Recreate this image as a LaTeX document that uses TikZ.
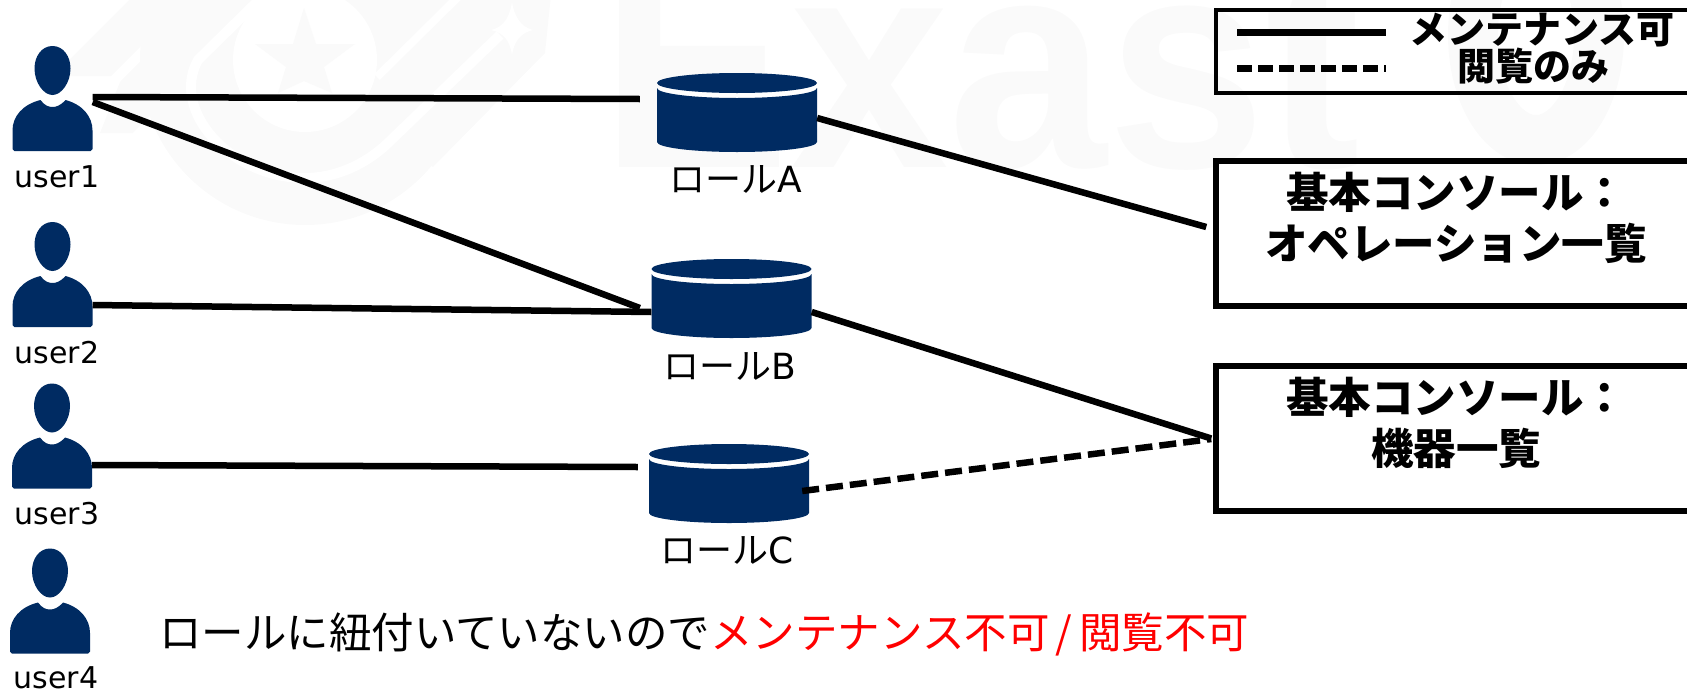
\documentclass[tikz,border=0pt]{standalone}
\usepackage{fontspec}
\usetikzlibrary{calc}
\setmainfont{DejaVu Sans}
\newfontfamily\cjk{Noto Sans CJK JP}
\definecolor{navy}{HTML}{002B62}
\definecolor{wm}{HTML}{FAFAFA}
\tikzset{
  conn/.style={line width=6.5pt,black},
  dashconn/.style={line width=6.5pt,black,dash pattern=on 17pt off 7pt},
  userbox/.style={minimum width=80pt,minimum height=105pt,inner sep=0pt},
  rolebox/.style={minimum width=160pt,minimum height=79pt,inner sep=0pt},
  ulabel/.style={anchor=base,inner sep=0pt,font=\fontsize{30}{36}\selectfont},
  rlabel/.style={anchor=base,inner sep=0pt,font=\fontsize{36}{44}\selectfont},
  consolebox/.style={draw=black,line width=5.5pt,minimum width=480pt,minimum height=145pt,inner sep=0pt},
  consoletext/.style={align=center,inner sep=0pt,font=\fontsize{42.5}{51}\selectfont\cjk\bfseries},
  legendbox/.style={draw=black,line width=3.5pt,minimum width=480pt,minimum height=83pt,inner sep=0pt},
  legendtext/.style={inner sep=0pt,font=\fontsize{38}{44}\selectfont\cjk\bfseries},
  usericon/.pic={
    \fill[navy] (0,-52.5) .. controls (11,-52.5) and (18,-42) .. (18,-30)
      .. controls (18,-16) and (9,-3.5) .. (0,-3.5)
      .. controls (-9,-3.5) and (-18,-16) .. (-18,-30)
      .. controls (-18,-42) and (-11,-52.5) .. (0,-52.5) -- cycle;
    \fill[navy] (-38,52.5) -- (-40,50.5) -- (-40,32)
      .. controls (-40,18) and (-30,6) .. (-12,1.5)
      .. controls (-8,7) and (-4,8.5) .. (0,8.5)
      .. controls (4,8.5) and (8,7) .. (13,1.5)
      .. controls (30,6) and (40,18) .. (40,32) -- (40,50.5) -- (38,52.5) -- cycle;
  },
  roleicon/.pic={
    \fill[navy] (-80,-29.5) .. controls (-80,-35) and (-44.2,-39.5) .. (0,-39.5)
      .. controls (44.2,-39.5) and (80,-35) .. (80,-29.5)
      .. controls (80,-24) and (44.2,-19.5) .. (0,-19.5)
      .. controls (-44.2,-19.5) and (-80,-24) .. (-80,-29.5) -- cycle;
    \fill[navy] (-80,-24.5) .. controls (-80,-19) and (-44.2,-14.5) .. (0,-14.5)
      .. controls (44.2,-14.5) and (80,-19) .. (80,-24.5) -- (80,29.5)
      .. controls (80,35) and (44.2,39.5) .. (0,39.5)
      .. controls (-44.2,39.5) and (-80,35) .. (-80,29.5) -- cycle;
  }
}
\begin{document}
\begin{tikzpicture}[x=1pt,y=-1pt]
\useasboundingbox (0,0) rectangle (1687,691);
\clip (0,0) rectangle (1687,691);
% watermark
\fill[wm] (305,60) circle[radius=165pt];
\fill[wm] (134,-5) -- (192,-5) -- (111,76) -- (53,76) -- cycle;
\fill[wm] (206,-5) -- (268,-5) -- (133,133) -- (100,133) -- (120,82) -- cycle;
\fill[wm] (370,-5) -- (551,-5) -- (545,53) -- (433,167) -- (380,130) -- (400,40) -- cycle;
\draw[white,line width=10pt] (264,-5) -- (198,60) .. controls (170,110) and (230,178) .. (305,178) .. controls (335,178) and (365,165) .. (388,143) -- (500,35);
\draw[white,line width=8pt] (377,77) -- (460,-5);
\fill[white] (305,60) circle[radius=72pt];
\fill[white] (491,30) .. controls (505,27) and (510,15) .. (512,2) .. controls (514,15) and (520,27) .. (533,30) .. controls (520,33) and (514,42) .. (512,55) .. controls (510,42) and (505,33) .. (491,30) -- cycle;
\fill[wm] (304,8) -- (316,44) -- (355,44) -- (324,67) -- (332,93) -- (304,81) -- (278,93) -- (286,67) -- (255,44) -- (293,44) -- cycle;
\node[inner sep=0pt,anchor=base west,text=wm,xscale=.95,font=\fontsize{300}{300}\selectfont\bfseries\fontspec{Liberation Sans}] (wmtext) at (600,167) {Exast};
\draw[wm,line width=50pt] (1536,35) ellipse[x radius=63pt,y radius=105pt];

% users
\node[userbox] (user1) at (52.5,98.5) {};
\node[userbox] (user2) at (52.5,274.5) {};
\node[userbox] (user3) at (52,436) {};
\node[userbox] (user4) at (50,601) {};
\pic at (user1.center) {usericon};
\pic at (user2.center) {usericon};
\pic at (user3.center) {usericon};
\pic at (user4.center) {usericon};
\node[ulabel] (luser1) at (57,187) {user1};
\node[ulabel] (luser2) at (57,363) {user2};
\node[ulabel] (luser3) at (57,524) {user3};
\node[ulabel] (luser4) at (56,688) {user4};

% roles
\node[rolebox] (roleA) at (737,112.5) {};
\node[rolebox] (roleB) at (731.5,298.5) {};
\node[rolebox] (roleC) at (729,483.5) {};
\pic at (roleA.center) {roleicon};
\pic at (roleB.center) {roleicon};
\pic at (roleC.center) {roleicon};
\node[rlabel] (lroleA) at (735.5,192) {{\cjk ロール}A};
\node[rlabel] (lroleB) at (729.5,379) {{\cjk ロール}B};
\node[rlabel] (lroleC) at (727,563) {{\cjk ロール}C};

% console boxes
\node[consolebox] (box1) at (1456,233.5) {};
\node[consolebox] (box2) at (1456,438.5) {};
\node[consoletext] (title1) at (1456,217.5) {基本コンソール：\\オペレーション一覧};
\node[consoletext] (title2) at (1456,422.5) {基本コンソール：\\機器一覧};

% legend
\node[legendbox] (legend) at (1456,51.5) {};
\coordinate (ls1) at (1237,32);
\coordinate (ls2) at (1386,32);
\coordinate (ld1) at (1237,68);
\coordinate (ld2) at (1386,68);
\draw[line width=7pt] (ls1) -- (ls2);
\draw[line width=7pt,dash pattern=on 15pt off 6pt] (ld1) -- (ld2);
\node[legendtext] (lt1) at (1542,30) {メンテナンス可};
\node[legendtext] (lt2) at (1533,66) {閲覧のみ};

% connectors
\draw[conn] ($(user1.east)+(0,-1.5)$) -- ($(roleA.west)+(-17,-13.5)$);
\draw[conn] ($(user1.east)+(0,3.5)$) -- ($(roleB.west)+(-11.5,9.5)$);
\draw[conn] ($(user2.east)+(0,30.5)$) -- ($(roleB.west)+(0,13.5)$);
\draw[conn] ($(user3.east)+(0,29)$) -- ($(roleC.west)+(-11,-16.5)$);
\draw[conn] ($(roleA.east)+(0,5.5)$) -- ($(box1.west)+(-7,-6.5)$);
\draw[conn] ($(roleB.east)+(0,13.5)$) -- ($(box2.west)+(-2,0)$);
\draw[dashconn] ($(roleC.east)+(-7,7.5)$) -- ($(box2.west)+(-2,0.5)$);

% note
\node[anchor=base west,inner sep=0pt,font=\fontsize{42.5}{50}\selectfont\cjk] (note) at (159,648) {ロールに紐付いていないので\textcolor{red}{メンテナンス不可\kern6pt/\kern7pt閲覧不可}};
\end{tikzpicture}
\end{document}
